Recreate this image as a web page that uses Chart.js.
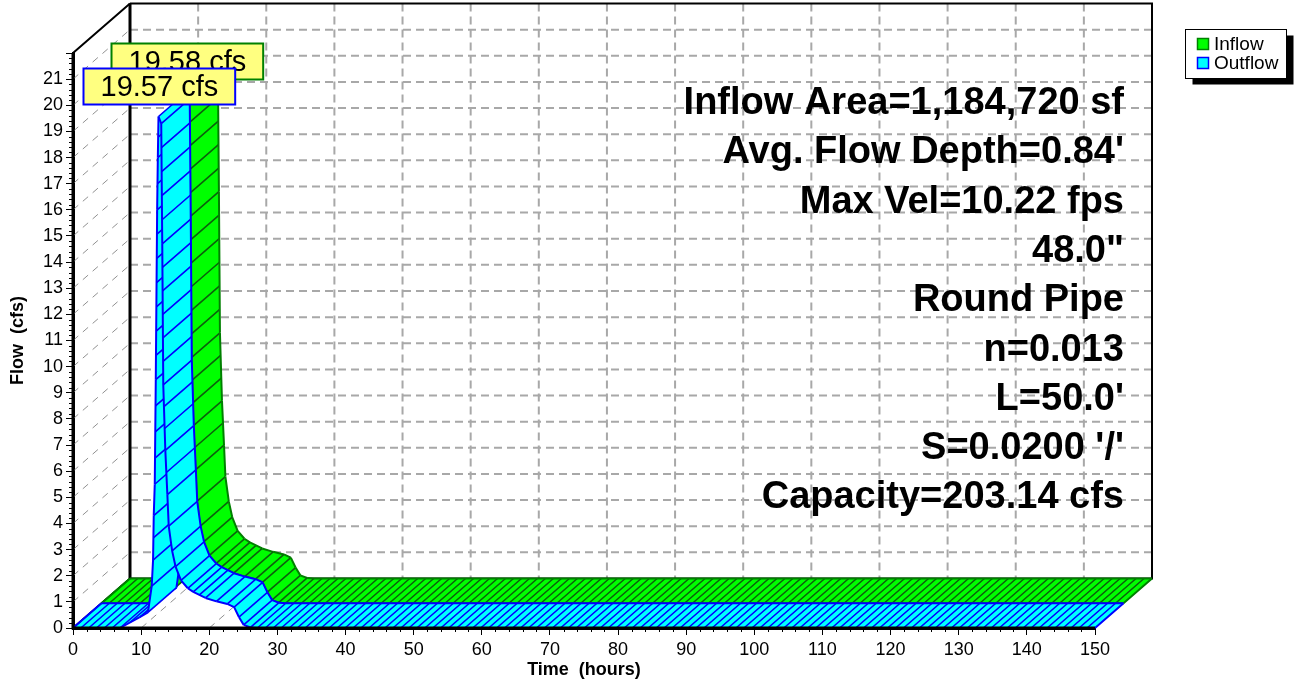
<!DOCTYPE html>
<html>
<head>
<meta charset="utf-8">
<title>Pipe Hydrograph</title>
<script src="https://cdn.jsdelivr.net/npm/chart.js@4.4.1/dist/chart.umd.min.js"></script>
<style>
  html, body { margin: 0; padding: 0; background: #ffffff; }
  #wrap { width: 1294px; height: 686px; position: relative; }
  canvas { display: block; }
</style>
</head>
<body>
<div id="wrap"><canvas id="chart" width="1294" height="686"></canvas></div>
<script>
// ---- Hydrograph data (time in hours, flow in cfs) ----
const inflowTime = [0, 6.8, 9.7, 10.9, 11.5, 11.7, 11.8, 11.95, 12.1, 12.3, 12.4, 12.5, 12.9, 13.05, 13.2, 13.5, 13.8, 14.0, 14.5, 15.0, 15.8, 16.8, 17.6, 19.4, 21.0, 22.6, 23.6, 24.3, 25.0, 26.0, 27.0, 150];
const inflowCfs  = [0, 0, 0.43, 0.62, 1.65, 2.7, 4.4, 5.6, 9.6, 16.1, 18.1, 19.58, 19.3, 14.8, 9.4, 6.8, 5.1, 3.9, 2.95, 2.35, 1.82, 1.52, 1.38, 1.15, 1.02, 0.92, 0.8, 0.42, 0.12, 0.02, 0, 0];

const outflowTime = [0, 6.9, 9.8, 11.0, 11.55, 11.75, 11.85, 12.0, 12.15, 12.35, 12.45, 12.55, 12.95, 13.1, 13.25, 13.55, 13.85, 14.05, 14.55, 15.05, 15.85, 16.85, 17.65, 19.45, 21.05, 22.65, 23.65, 24.35, 25.05, 26.05, 27.05, 150];
const outflowCfs  = [0, 0, 0.42, 0.6, 1.6, 2.6, 4.3, 5.5, 9.5, 16.0, 18.0, 19.57, 19.3, 14.7, 9.3, 6.8, 5.1, 3.9, 2.95, 2.35, 1.82, 1.52, 1.38, 1.15, 1.02, 0.92, 0.8, 0.42, 0.12, 0.02, 0, 0];

const seriesNames = ['Inflow', 'Outflow'];
const peakLabels  = ['19.58 cfs', '19.57 cfs'];

const infoLines = [
  'Inflow Area=1,184,720 sf',
  'Avg. Flow Depth=0.84\'',
  'Max Vel=10.22 fps',
  '48.0"',
  'Round Pipe',
  'n=0.013',
  'L=50.0\'',
  'S=0.0200 \'/\'',
  'Capacity=203.14 cfs'
];

const timeRange = [0, 150];
const flowRange = [0, 22];
const timeStep = 10;
const flowStep = 1;

// ---- Drawing styles ----
const FONT = "'Liberation Sans', Arial, Helvetica, sans-serif";
const DEPTH = { x: 57, y: -49.5 };           // full depth of the 3D box
const HALF  = { x: DEPTH.x / 2, y: DEPTH.y / 2 };
const STYLES = [
  { fill: '#00ff00', hatch: '#0c600c', edge: '#008000', labelEdge: '#008000' },
  { fill: '#00ffff', hatch: '#0000ff', edge: '#0000ff', labelEdge: '#0000ff' }
];

function toPoints(times, flows) {
  return times.map((t, i) => ({ x: t, y: flows[i] }));
}

function drawRibbon(ctx, pts, off, d, st) {
  ctx.save();
  ctx.lineJoin = 'round';
  ctx.lineCap = 'butt';
  const P = pts.map(p => ({ x: p.x + off.x, y: p.y + off.y }));
  for (let i = 0; i < P.length - 1; i++) {
    const a = P[i], b = P[i + 1];
    ctx.beginPath();
    ctx.moveTo(a.x, a.y);
    ctx.lineTo(b.x, b.y);
    ctx.lineTo(b.x + d.x, b.y + d.y);
    ctx.lineTo(a.x + d.x, a.y + d.y);
    ctx.closePath();
    ctx.fillStyle = st.fill;
    ctx.fill();

    // depth-direction hatching across the ribbon surface
    const n = Math.max(1, Math.round(Math.abs(b.x - a.x) / 8), Math.round(Math.abs(b.y - a.y) / 24));
    ctx.beginPath();
    for (let k = 0; k < n; k++) {
      const s = k / n;
      const px = a.x + (b.x - a.x) * s, py = a.y + (b.y - a.y) * s;
      ctx.moveTo(px, py);
      ctx.lineTo(px + d.x, py + d.y);
    }
    ctx.strokeStyle = st.hatch;
    ctx.lineWidth = 1.6;
    ctx.stroke();

    // front and back edges of this slice
    ctx.beginPath();
    ctx.moveTo(a.x, a.y); ctx.lineTo(b.x, b.y);
    ctx.moveTo(a.x + d.x, a.y + d.y); ctx.lineTo(b.x + d.x, b.y + d.y);
    ctx.strokeStyle = st.edge;
    ctx.lineWidth = 2;
    ctx.stroke();
  }
  // end caps
  const f = P[0], l = P[P.length - 1];
  ctx.beginPath();
  ctx.moveTo(f.x, f.y); ctx.lineTo(f.x + d.x, f.y + d.y);
  ctx.moveTo(l.x, l.y); ctx.lineTo(l.x + d.x, l.y + d.y);
  ctx.strokeStyle = st.edge;
  ctx.lineWidth = 2;
  ctx.stroke();
  ctx.restore();
}

const box3d = {
  id: 'box3d',
  beforeDatasetsDraw(chart) {
    const ctx = chart.ctx;
    const sx = chart.scales.x, sy = chart.scales.y;
    const x0 = sx.getPixelForValue(timeRange[0]), x1 = sx.getPixelForValue(timeRange[1]);
    const y0 = sy.getPixelForValue(flowRange[0]), y1 = sy.getPixelForValue(flowRange[1]);
    ctx.save();

    // back wall grid
    ctx.strokeStyle = '#a8a8a8';
    ctx.lineWidth = 2;
    ctx.setLineDash([8, 5]);
    ctx.beginPath();
    for (let v = flowRange[0] + flowStep; v < flowRange[1]; v += flowStep) {
      const y = sy.getPixelForValue(v) + DEPTH.y;
      ctx.moveTo(x0 + DEPTH.x, y); ctx.lineTo(x1 + DEPTH.x, y);
    }
    for (let t = timeRange[0] + timeStep; t < timeRange[1]; t += timeStep) {
      const x = sx.getPixelForValue(t) + DEPTH.x;
      ctx.moveTo(x, y1 + DEPTH.y); ctx.lineTo(x, y0 + DEPTH.y);
    }
    ctx.stroke();

    // side wall and floor grid (receding lines)
    ctx.lineWidth = 1;
    ctx.strokeStyle = '#909090';
    ctx.setLineDash([7, 6]);
    ctx.beginPath();
    for (let v = flowRange[0] + flowStep; v < flowRange[1]; v += flowStep) {
      const y = sy.getPixelForValue(v);
      ctx.moveTo(x0, y); ctx.lineTo(x0 + DEPTH.x, y + DEPTH.y);
    }
    for (let t = timeRange[0] + timeStep; t < timeRange[1]; t += timeStep) {
      const x = sx.getPixelForValue(t);
      ctx.moveTo(x, y0); ctx.lineTo(x + DEPTH.x, y0 + DEPTH.y);
    }
    ctx.stroke();
    ctx.setLineDash([]);

    // box outline: back wall rectangle plus the two receding corner edges
    ctx.strokeStyle = '#000000';
    ctx.lineWidth = 2;
    ctx.beginPath();
    ctx.moveTo(x0 + DEPTH.x, y1 + DEPTH.y);
    ctx.lineTo(x1 + DEPTH.x, y1 + DEPTH.y);
    ctx.lineTo(x1 + DEPTH.x, y0 + DEPTH.y);
    ctx.lineTo(x0 + DEPTH.x, y0 + DEPTH.y);
    ctx.moveTo(x0, y1); ctx.lineTo(x0 + DEPTH.x, y1 + DEPTH.y);
    ctx.moveTo(x0, y0); ctx.lineTo(x0 + DEPTH.x, y0 + DEPTH.y);
    ctx.stroke();
    ctx.lineWidth = 3;
    ctx.beginPath();
    ctx.moveTo(x0 + DEPTH.x, y1 + DEPTH.y); ctx.lineTo(x0 + DEPTH.x, y0 + DEPTH.y);
    ctx.stroke();

    // ribbons: back series first, front series last
    const metaPts = chart.data.datasets.map(ds => ds.data.map(p => ({
      x: sx.getPixelForValue(p.x), y: sy.getPixelForValue(p.y)
    })));
    drawRibbon(ctx, metaPts[0], HALF, HALF, STYLES[0]);
    drawRibbon(ctx, metaPts[1], { x: 0, y: 0 }, HALF, STYLES[1]);
    ctx.restore();
  },
  afterDraw(chart) {
    const ctx = chart.ctx;
    const sx = chart.scales.x, sy = chart.scales.y;
    ctx.save();

    // minor ticks
    ctx.strokeStyle = '#000';
    ctx.lineWidth = 1;
    ctx.beginPath();
    const xl = sx.getPixelForValue(timeRange[0]);
    for (let i = 1; i < (flowRange[1] - flowRange[0]) * 5; i++) {
      if (i % 5 === 0) continue;
      const y = Math.round(sy.getPixelForValue(flowRange[0] + i * 0.2)) + 0.5;
      ctx.moveTo(xl - 4, y); ctx.lineTo(xl, y);
    }
    const yb = sy.getPixelForValue(flowRange[0]);
    for (let t = timeRange[0] + 2; t < timeRange[1]; t += 2) {
      if (t % timeStep === 0) continue;
      const x = Math.round(sx.getPixelForValue(t)) + 0.5;
      ctx.moveTo(x, yb); ctx.lineTo(x, yb + 4);
    }
    ctx.stroke();

    // front axes redrawn on top of the ribbons
    const yt = sy.getPixelForValue(flowRange[1]);
    const xr = sx.getPixelForValue(timeRange[1]);
    ctx.lineWidth = 3;
    ctx.beginPath();
    ctx.moveTo(xl, yt); ctx.lineTo(xl, yb + 1.5);
    ctx.moveTo(xl - 1.5, yb); ctx.lineTo(xr, yb);
    ctx.stroke();

    // peak labels
    const series = chart.data.datasets;
    const offs = [HALF, { x: 0, y: 0 }];
    ctx.font = '29px ' + FONT;
    ctx.textAlign = 'center';
    ctx.textBaseline = 'middle';
    series.forEach((ds, si) => {
      let pk = ds.data[0];
      ds.data.forEach(p => { if (p.y > pk.y) pk = p; });
      const px = sx.getPixelForValue(pk.x) + offs[si].x;
      const py = sy.getPixelForValue(pk.y) + offs[si].y;
      const w = ctx.measureText(peakLabels[si]).width + 34;
      const h = 36;
      const bx = Math.round(px - w / 2) + 0.5, by = Math.round(py - 13 - h) + 0.5;
      ctx.fillStyle = '#ffff80';
      ctx.fillRect(bx, by, w, h);
      ctx.strokeStyle = STYLES[si].labelEdge;
      ctx.lineWidth = 2;
      ctx.strokeRect(bx, by, w, h);
      ctx.fillStyle = '#000';
      ctx.fillText(peakLabels[si], bx + w / 2, by + h / 2 + 1);
    });

    // pipe description
    ctx.font = 'bold 38px ' + FONT;
    ctx.textAlign = 'right';
    ctx.textBaseline = 'alphabetic';
    ctx.fillStyle = '#000';
    infoLines.forEach((s, i) => ctx.fillText(s, 1124, 114 + i * 49.3));

    // legend
    const lx = 1185.5, ly = 29.5, lw = 101, lh = 49;
    ctx.fillStyle = '#000';
    ctx.fillRect(lx + 7, ly + 6, lw, lh);
    ctx.fillStyle = '#fff';
    ctx.fillRect(lx, ly, lw, lh);
    ctx.strokeStyle = '#000';
    ctx.lineWidth = 1;
    ctx.strokeRect(lx, ly, lw, lh);
    ctx.font = '19px ' + FONT;
    ctx.textAlign = 'left';
    ctx.textBaseline = 'middle';
    seriesNames.forEach((name, i) => {
      const ry = 38.5 + i * 19;
      ctx.fillStyle = STYLES[i].fill;
      ctx.fillRect(1197.5, ry, 11, 11);
      ctx.strokeStyle = STYLES[i].edge;
      ctx.lineWidth = 1.5;
      ctx.strokeRect(1197.5, ry, 11, 11);
      ctx.fillStyle = '#000';
      ctx.fillText(name, 1214, ry + 6);
    });
    ctx.restore();
  }
};

const chart = new Chart(document.getElementById('chart'), {
  type: 'scatter',
  data: {
    datasets: [
      { label: seriesNames[0], data: toPoints(inflowTime, inflowCfs), showLine: false, pointRadius: 0, pointHoverRadius: 0 },
      { label: seriesNames[1], data: toPoints(outflowTime, outflowCfs), showLine: false, pointRadius: 0, pointHoverRadius: 0 }
    ]
  },
  options: {
    responsive: false,
    animation: false,
    events: [],
    layout: { padding: { top: 53, right: 199, bottom: 0, left: 0 } },
    plugins: { legend: { display: false }, tooltip: { enabled: false } },
    scales: {
      x: {
        type: 'linear', min: timeRange[0], max: timeRange[1], z: 1,
        afterFit(s) { s.height = 58; },
        ticks: { stepSize: timeStep, color: '#000', font: { family: FONT, size: 18 }, padding: 4, maxRotation: 0, autoSkip: false },
        grid: { drawOnChartArea: false, drawTicks: true, tickLength: 7, color: '#000', lineWidth: 1 },
        border: { display: true, color: '#000', width: 3 },
        title: { display: true, text: 'Time  (hours)', color: '#000', font: { family: FONT, size: 18, weight: 'bold' }, padding: { top: 0, bottom: 5 } }
      },
      y: {
        type: 'linear', min: flowRange[0], max: flowRange[1], z: 1,
        afterFit(s) { s.width = 73; },
        ticks: { stepSize: flowStep, color: '#000', font: { family: FONT, size: 18 }, padding: 3,
                 callback: v => (v >= flowRange[1] ? '' : String(v)) },
        grid: { drawOnChartArea: false, drawTicks: true, tickLength: 7, color: '#000', lineWidth: 1 },
        border: { display: true, color: '#000', width: 3 },
        title: { display: true, text: 'Flow  (cfs)', color: '#000', font: { family: FONT, size: 18, weight: 'bold' }, padding: { top: 7, bottom: 0 } }
      }
    }
  },
  plugins: [box3d]
});
</script>
</body>
</html>
